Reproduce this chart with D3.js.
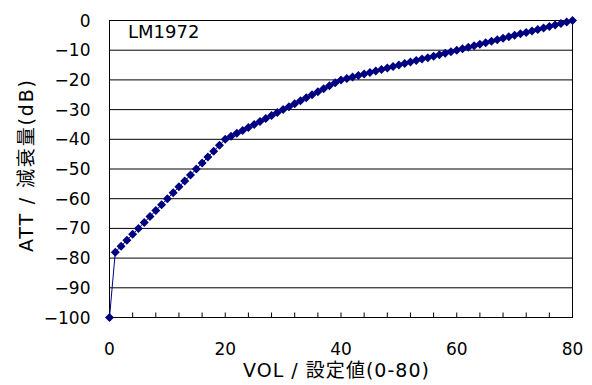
<!DOCTYPE html>
<html>
<head>
<meta charset="utf-8">
<script src="https://cdn.jsdelivr.net/npm/d3@7"></script>
<style>
  html, body { margin: 0; padding: 0; background: #fff; }
  svg { display: block; }
</style>
</head>
<body>
<div id="chart"></div>
<script>
// VOL setting (0-80) and attenuation (dB)
const vol = [
  0, 1, 2, 3, 4, 5, 6, 7, 8, 9, 10, 11, 12, 13, 14, 15, 16, 17, 18, 19, 20,
  21, 22, 23, 24, 25, 26, 27, 28, 29, 30, 31, 32, 33, 34, 35, 36, 37, 38, 39, 40,
  41, 42, 43, 44, 45, 46, 47, 48, 49, 50, 51, 52, 53, 54, 55, 56, 57, 58, 59, 60,
  61, 62, 63, 64, 65, 66, 67, 68, 69, 70, 71, 72, 73, 74, 75, 76, 77, 78, 79, 80
];
const att = [
  -100, -78, -76, -74, -72, -70, -68, -66, -64, -62, -60, -58, -56, -54, -52, -50, -48, -46, -44, -42, -40,
  -39, -38, -37, -36, -35, -34, -33, -32, -31, -30, -29, -28, -27, -26, -25, -24, -23, -22, -21, -20,
  -19.5, -19, -18.5, -18, -17.5, -17, -16.5, -16, -15.5, -15, -14.5, -14, -13.5, -13, -12.5, -12, -11.5, -11, -10.5, -10,
  -9.5, -9, -8.5, -8, -7.5, -7, -6.5, -6, -5.5, -5, -4.5, -4, -3.5, -3, -2.5, -2, -1.5, -1, -0.5, 0
];
const xTicks = [0, 20, 40, 60, 80];
const xMinorTicks = [4, 8, 12, 16, 24, 28, 32, 36, 44, 48, 52, 56, 64, 68, 72, 76];
const yTicks = [0, -10, -20, -30, -40, -50, -60, -70, -80, -90, -100];

const data = vol.map((v, i) => ({ vol: v, att: att[i] }));

const W = 592, H = 385;
const margin = { top: 20.5, right: 19.5, bottom: 67.5, left: 109.5 };
const width = W - margin.left - margin.right;
const height = H - margin.top - margin.bottom;

const numFont = "'DejaVu Sans', sans-serif";
const jpFont = "'DejaVu Sans', 'Noto Sans CJK JP', sans-serif";

const svg = d3.select("#chart").append("svg")
  .attr("width", W)
  .attr("height", H);

const g = svg.append("g")
  .attr("transform", `translate(${margin.left},${margin.top})`);

const x = d3.scaleLinear().domain([0, 80]).range([0, width]);
const y = d3.scaleLinear().domain([-100, 0]).range([height, 0]);

// grid lines
g.selectAll(".grid")
  .data(yTicks.filter(d => d > -100 && d < 0))
  .enter().append("line")
  .attr("x1", 0).attr("x2", width)
  .attr("y1", d => y(d)).attr("y2", d => y(d))
  .attr("stroke", "#000").attr("stroke-width", 1);

// plot area border
g.append("rect")
  .attr("width", width).attr("height", height)
  .attr("fill", "none").attr("stroke", "#000").attr("stroke-width", 1);

// x tick marks (inside)
g.selectAll(".xtick")
  .data(xMinorTicks.concat(xTicks.slice(1, -1)))
  .enter().append("line")
  .attr("x1", d => x(d)).attr("x2", d => x(d))
  .attr("y1", height).attr("y2", height - 5)
  .attr("stroke", "#000").attr("stroke-width", 1);

// tick labels
g.selectAll(".ylab")
  .data(yTicks)
  .enter().append("text")
  .attr("x", -19)
  .attr("y", d => y(d) + 6)
  .attr("text-anchor", "end")
  .style("font-family", numFont)
  .style("font-size", "17px")
  .text(d => d3.format("d")(d));

g.selectAll(".xlab")
  .data(xTicks)
  .enter().append("text")
  .attr("x", d => x(d))
  .attr("y", height + 37)
  .attr("text-anchor", "middle")
  .style("font-family", numFont)
  .style("font-size", "17px")
  .text(d => d);

// series line
const line = d3.line().x(d => x(d.vol)).y(d => y(d.att));
g.append("path")
  .datum(data)
  .attr("d", line)
  .attr("fill", "none")
  .attr("stroke", "#000080")
  .attr("stroke-width", 1);

// diamond markers
g.selectAll(".pt")
  .data(data)
  .enter().append("path")
  .attr("transform", d => `translate(${x(d.vol)},${y(d.att)})`)
  .attr("d", "M0,-4.5L4.5,0L0,4.5L-4.5,0Z")
  .attr("fill", "#000080");

// label
g.append("text")
  .attr("x", 18.5)
  .attr("y", 17.5)
  .style("font-family", numFont)
  .style("font-size", "18px")
  .text("LM1972");

// axis titles
svg.append("text")
  .attr("x", 336)
  .attr("y", 377)
  .attr("text-anchor", "middle")
  .attr("textLength", 186)
  .attr("lengthAdjust", "spacing")
  .style("font-family", jpFont)
  .style("font-size", "19px")
  .text("VOL / 設定値(0-80)");

svg.append("text")
  .attr("transform", `translate(33,166) rotate(-90)`)
  .attr("text-anchor", "middle")
  .attr("textLength", 172)
  .attr("lengthAdjust", "spacing")
  .style("font-family", jpFont)
  .style("font-size", "19px")
  .text("ATT / 減衰量(dB)");
</script>
</body>
</html>
